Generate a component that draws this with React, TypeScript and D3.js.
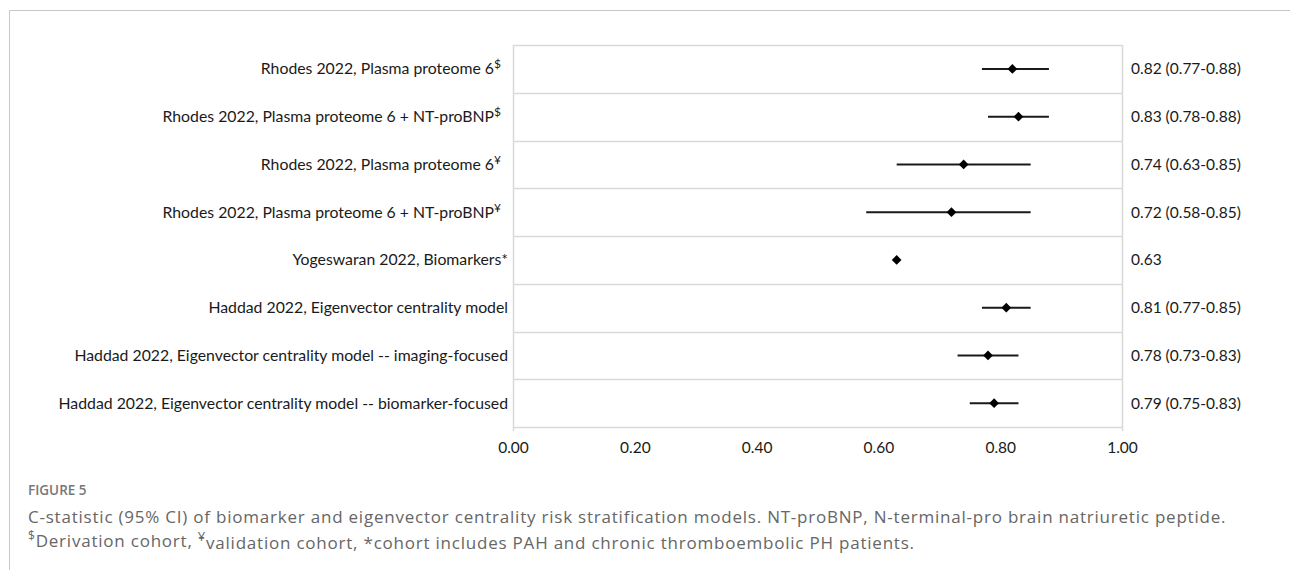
import { useEffect, useRef } from 'react';
import * as d3 from 'd3';

// study / model labels, with their superscript markers
const labels = [
  'Rhodes 2022, Plasma proteome 6',
  'Rhodes 2022, Plasma proteome 6 + NT-proBNP',
  'Rhodes 2022, Plasma proteome 6',
  'Rhodes 2022, Plasma proteome 6 + NT-proBNP',
  'Yogeswaran 2022, Biomarkers*',
  'Haddad 2022, Eigenvector centrality model',
  'Haddad 2022, Eigenvector centrality model -- imaging-focused',
  'Haddad 2022, Eigenvector centrality model -- biomarker-focused',
];
const superscripts = ['$', '$', '¥', '¥', '', '', '', ''];

// C-statistic and 95% CI
const estimates = [0.82, 0.83, 0.74, 0.72, 0.63, 0.81, 0.78, 0.79];
const lower = [0.77, 0.78, 0.63, 0.58, null, 0.77, 0.73, 0.75];
const upper = [0.88, 0.88, 0.85, 0.85, null, 0.85, 0.83, 0.83];

const xTicks = [0, 0.2, 0.4, 0.6, 0.8, 1.0];

const captionTitle = 'FIGURE 5';
const captionLine1 =
  'C-statistic (95% CI) of biomarker and eigenvector centrality risk stratification models. NT-proBNP, N-terminal-pro brain natriuretic peptide.';

const WIDTH = 1290;
const HEIGHT = 570;
const FONT = 'Lato, "Open Sans", sans-serif';

export default function App() {
  const svgRef = useRef<SVGSVGElement>(null);

  useEffect(() => {
    if (!svgRef.current) return;
    const svg = d3.select(svgRef.current);
    svg.selectAll('*').remove();

    // figure frame (top + left rules)
    svg
      .append('path')
      .attr('d', `M9.5,${HEIGHT} V10.5 H${WIDTH}`)
      .attr('fill', 'none')
      .attr('stroke', '#c8c8c8')
      .attr('stroke-width', 1);

    const plot = { left: 513, right: 1122, top: 45, bottom: 427 };

    const x = d3.scaleLinear().domain([0, 1]).range([plot.left, plot.right]);
    const y = d3
      .scaleBand<number>()
      .domain(d3.range(labels.length))
      .range([plot.top, plot.bottom]);

    const g = svg.append('g');

    // row separators
    g.selectAll('.row-line')
      .data(d3.range(labels.length + 1))
      .enter()
      .append('line')
      .attr('x1', plot.left)
      .attr('x2', plot.right)
      .attr('y1', (i) => Math.round(plot.top + i * y.step()) + 0.5)
      .attr('y2', (i) => Math.round(plot.top + i * y.step()) + 0.5)
      .attr('stroke', '#d9d9d9')
      .attr('stroke-width', 1.5);

    // left / right borders
    [plot.left, plot.right].forEach((xx) => {
      g.append('line')
        .attr('x1', xx + 0.5)
        .attr('x2', xx + 0.5)
        .attr('y1', plot.top)
        .attr('y2', plot.bottom + 4)
        .attr('stroke', '#d9d9d9')
        .attr('stroke-width', 1.5);
    });

    const cy = (i: number) => (y(i) as number) + y.bandwidth() / 2;

    // row labels
    const lab = g
      .selectAll('.label')
      .data(labels)
      .enter()
      .append('text')
      .attr('x', (d, i) => (superscripts[i] ? 501 : 508))
      .attr('y', (d, i) => cy(i))
      .attr('dy', '0.35em')
      .attr('text-anchor', 'end')
      .style('font-family', FONT)
      .style('font-size', '15.8px')
      .style('fill', '#1a1a1a');
    lab.append('tspan').text((d) => d);
    lab
      .append('tspan')
      .attr('dy', '-0.5em')
      .style('font-size', '12px')
      .text((d, i) => superscripts[i]);

    // CI whiskers
    g.selectAll('.ci')
      .data(estimates.map((e, i) => ({ i, lo: lower[i], hi: upper[i] })).filter((d) => d.lo != null))
      .enter()
      .append('line')
      .attr('x1', (d) => x(d.lo as number))
      .attr('x2', (d) => x(d.hi as number))
      .attr('y1', (d) => cy(d.i))
      .attr('y2', (d) => cy(d.i))
      .attr('stroke', '#1a1a1a')
      .attr('stroke-width', 2);

    // point estimates (diamonds)
    const diamond = d3.symbol().type(d3.symbolDiamond2).size(60);
    g.selectAll('.pt')
      .data(estimates)
      .enter()
      .append('path')
      .attr('d', diamond)
      .attr('transform', (d, i) => `translate(${x(d)},${cy(i)})`)
      .attr('fill', '#000');

    // right-hand value labels
    g.selectAll('.val')
      .data(estimates)
      .enter()
      .append('text')
      .attr('x', plot.right + 9)
      .attr('y', (d, i) => cy(i))
      .attr('dy', '0.35em')
      .style('font-family', FONT)
      .style('font-size', '15.5px')
      .style('fill', '#1a1a1a')
      .text((d, i) =>
        lower[i] != null
          ? `${d.toFixed(2)} (${(lower[i] as number).toFixed(2)}-${(upper[i] as number).toFixed(2)})`
          : d.toFixed(2)
      );

    // x axis
    const xAxis = d3
      .axisBottom(x)
      .tickValues(xTicks)
      .tickFormat(d3.format('.2f'))
      .tickSize(0)
      .tickPadding(15);
    const ax = g.append('g').attr('transform', `translate(0,${plot.bottom})`).call(xAxis);
    ax.select('.domain').remove();
    ax.selectAll('text')
      .style('font-family', FONT)
      .style('font-size', '15.5px')
      .style('fill', '#1a1a1a');

    // caption
    const cap = svg
      .append('g')
      .style('font-family', '"Open Sans", sans-serif')
      .style('fill', '#666')
      .style('letter-spacing', '0.78px');
    cap
      .append('text')
      .attr('x', 28)
      .attr('y', 495)
      .style('font-size', '13.5px')
      .style('font-weight', '600')
      .style('letter-spacing', '0px')
      .style('fill', '#777')
      .text(captionTitle);
    cap
      .append('text')
      .attr('x', 28)
      .attr('y', 523)
      .style('font-size', '17px')
      .text(captionLine1);
    const l2 = cap.append('text').attr('x', 28).attr('y', 545).style('font-size', '17px');
    l2.append('tspan').attr('dy', '-0.45em').style('font-size', '12px').text('$');
    l2.append('tspan').attr('dy', '0.45em').text('Derivation cohort, ');
    l2.append('tspan').attr('dy', '-0.45em').style('font-size', '13px').text('¥');
    l2.append('tspan').attr('dy', '0.45em').text('validation cohort, *cohort includes PAH and chronic thromboembolic PH patients.');
  }, []);

  return (
    <svg
      ref={svgRef}
      width={WIDTH}
      height={HEIGHT}
      style={{ position: 'absolute', left: 0, top: 0, background: '#fff' }}
    />
  );
}
